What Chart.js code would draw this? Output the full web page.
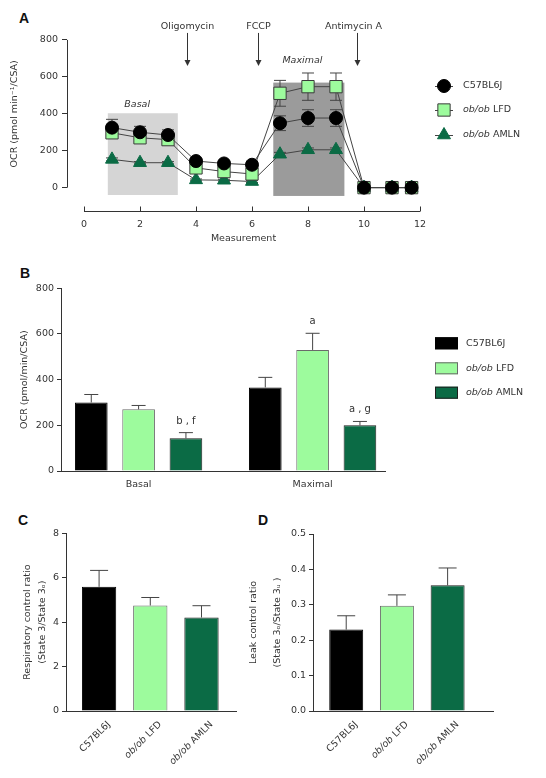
<!DOCTYPE html>
<html>
<head>
<meta charset="utf-8">
<script src="https://cdn.jsdelivr.net/npm/chart.js@4"></script>
<style>
  body { margin: 0; background: #fff; width: 546px; height: 778px; position: relative; overflow: hidden; }
  .box { position: absolute; }
  .letter { position: absolute; font: bold 14px "Liberation Sans", Arial, sans-serif; line-height: 1; color: #111; }
</style>
</head>
<body>
<div class="letter" style="left:19px;top:11px">A</div>
<div class="letter" style="left:20px;top:266px">B</div>
<div class="letter" style="left:18px;top:513px">C</div>
<div class="letter" style="left:258px;top:513px">D</div>

<div class="box" style="left:0;top:0;width:546px;height:250px"><canvas id="chartA"></canvas></div>
<div class="box" style="left:0;top:260px;width:546px;height:240px"><canvas id="chartB"></canvas></div>
<div class="box" style="left:0;top:505px;width:273px;height:273px"><canvas id="chartC"></canvas></div>
<div class="box" style="left:240px;top:505px;width:306px;height:273px"><canvas id="chartD"></canvas></div>

<script>
// ---- data ----
const groups = ['C57BL6J', 'ob/ob LFD', 'ob/ob AMLN'];

// A: OCR trace per measurement
const measurements = [1, 2, 3, 4, 5, 6, 7, 8, 9, 10, 11, 11.7];
const c57Ocr = [325, 300, 285, 144, 131, 124, 349, 377, 377, 0, 0, 0];
const c57Sem = [45, 32, 28, 14, 12, 12, 40, 45, 45, 0, 0, 0];
const lfdOcr = [297, 270, 260, 107, 87, 74, 511, 547, 547, 0, 0, 0];
const lfdSem = [22, 20, 20, 15, 15, 15, 70, 74, 74, 0, 0, 0];
const amlnOcr = [153, 135, 135, 42, 40, 33, 181, 205, 205, 0, 0, 0];
const amlnSem = [8, 6, 6, 5, 5, 5, 10, 10, 10, 0, 0, 0];
const xTicksA = [0, 2, 4, 6, 8, 10, 12];
const yTicksOcr = [0, 200, 400, 600, 800];
const injections = ['Oligomycin', 'FCCP', 'Antimycin A'];
const injectionAt = [3.68, 6.2, 9.75];

// B: basal / maximal OCR
const phases = ['Basal', 'Maximal'];
const c57Phase = [300, 366];
const c57PhaseSem = [35, 44];
const lfdPhase = [270, 530];
const lfdPhaseSem = [17, 73];
const amlnPhase = [143, 200];
const amlnPhaseSem = [25, 17];
const phaseNotes = [['', ''], ['', 'a'], ['b , f', 'a , g']];

// C: respiratory control ratio
const rcr = [5.59, 4.75, 4.21];
const rcrSem = [0.74, 0.36, 0.53];
const yTicksC = [0, 2, 4, 6, 8];

// D: leak control ratio
const lcr = [0.230, 0.297, 0.355];
const lcrSem = [0.039, 0.031, 0.049];
const yTicksD = [0, 0.1, 0.2, 0.3, 0.4, 0.5];

const black = '#000000';
const lightGreen = '#9dfb9d';
const darkGreen = '#0b6b45';
const ink = '#333333';

Chart.defaults.font.family = '"DejaVu Sans", sans-serif';
Chart.defaults.font.size = 9.5;
Chart.defaults.color = ink;
Chart.defaults.animation = false;

function fnt(size, italic) {
  return (italic ? 'italic ' : '') + size + 'px "DejaVu Sans", sans-serif';
}

// draw "ob/ob" in italics, the rest upright
function drawRich(ctx, label, x, y, size, align) {
  const parts = label.startsWith('ob/ob ') ? [['ob/ob', true], [label.slice(5), false]] : [[label, false]];
  let w = 0;
  parts.forEach(p => { ctx.font = fnt(size, p[1]); w += ctx.measureText(p[0]).width; });
  let cx = align === 'right' ? x - w : (align === 'center' ? x - w / 2 : x);
  ctx.textAlign = 'left';
  parts.forEach(p => {
    ctx.font = fnt(size, p[1]);
    ctx.fillText(p[0], cx, y);
    cx += ctx.measureText(p[0]).width;
  });
}

function drawErrors(chart, capHalf, both) {
  const ctx = chart.ctx;
  const y = chart.scales.y;
  ctx.save();
  ctx.strokeStyle = '#444';
  ctx.lineWidth = 1;
  chart.data.datasets.forEach((ds, d) => {
    const meta = chart.getDatasetMeta(d);
    meta.data.forEach((el, i) => {
      const v = ds.data[i].y;
      const e = ds.sem[i];
      if (!e) return;
      const top = y.getPixelForValue(v + e);
      const bot = y.getPixelForValue(both ? v - e : v);
      ctx.beginPath();
      ctx.moveTo(el.x, bot);
      ctx.lineTo(el.x, top);
      ctx.moveTo(el.x - capHalf, top);
      ctx.lineTo(el.x + capHalf, top);
      if (both) {
        ctx.moveTo(el.x - capHalf, bot);
        ctx.lineTo(el.x + capHalf, bot);
      }
      ctx.stroke();
    });
  });
  ctx.restore();
}

// ---------- A ----------
const panelA = {
  id: 'panelA',
  beforeDatasetsDraw(chart) {
    const ctx = chart.ctx;
    const x = chart.scales.x, y = chart.scales.y;
    ctx.save();
    // phase windows
    ctx.fillStyle = '#d5d5d5';
    ctx.fillRect(x.getPixelForValue(0.85), y.getPixelForValue(403), x.getPixelForValue(3.35) - x.getPixelForValue(0.85), y.getPixelForValue(-40) - y.getPixelForValue(403));
    ctx.fillStyle = '#9b9b9b';
    ctx.fillRect(x.getPixelForValue(6.76), y.getPixelForValue(569), x.getPixelForValue(9.3) - x.getPixelForValue(6.76), y.getPixelForValue(-45) - y.getPixelForValue(569));
    // axes
    ctx.strokeStyle = ink;
    ctx.lineWidth = 1;
    ctx.beginPath();
    const ax = Math.round(chart.chartArea.left) + 0.5;
    ctx.moveTo(ax, y.getPixelForValue(0));
    ctx.lineTo(ax, y.getPixelForValue(800));
    const ay = Math.round(chart.chartArea.bottom) - 0.5;
    ctx.moveTo(x.getPixelForValue(0), ay);
    ctx.lineTo(x.getPixelForValue(12), ay);
    xTicksA.forEach(t => {
      const px = Math.round(x.getPixelForValue(t)) + 0.5;
      ctx.moveTo(px, ay);
      ctx.lineTo(px, ay - 5);
    });
    ctx.stroke();
    ctx.restore();
    drawErrors(chart, 6, true);
  },
  afterDraw(chart) {
    const ctx = chart.ctx;
    const x = chart.scales.x, y = chart.scales.y;
    ctx.save();
    ctx.fillStyle = ink;
    ctx.strokeStyle = ink;
    ctx.lineWidth = 1;
    // injection arrows
    injections.forEach((name, i) => {
      const px = Math.round(x.getPixelForValue(injectionAt[i])) + 0.5;
      const top = y.getPixelForValue(838);
      const tip = y.getPixelForValue(659);
      ctx.font = fnt(9.5);
      ctx.textAlign = 'center';
      ctx.textBaseline = 'alphabetic';
      ctx.fillText(name, px - (i === 2 ? 4 : 0), top - 4);
      ctx.beginPath();
      ctx.moveTo(px, top);
      ctx.lineTo(px, tip - 4);
      ctx.stroke();
      ctx.beginPath();
      ctx.moveTo(px - 3, tip - 6);
      ctx.lineTo(px + 3, tip - 6);
      ctx.lineTo(px, tip);
      ctx.closePath();
      ctx.fill();
    });
    // phase names
    ctx.font = fnt(9.5, true);
    ctx.textAlign = 'center';
    ctx.textBaseline = 'middle';
    ctx.fillText('Basal', x.getPixelForValue(1.9), y.getPixelForValue(450));
    ctx.fillText('Maximal', x.getPixelForValue(7.8), y.getPixelForValue(690));
    // y title, centred on the 0-800 axis
    ctx.save();
    ctx.translate(15, (y.getPixelForValue(0) + y.getPixelForValue(800)) / 2);
    ctx.rotate(-Math.PI / 2);
    ctx.font = fnt(9.5);
    ctx.fillText('OCR (pmol min\u207B\u00B9/CSA)', 0, 0);
    ctx.restore();
    // legend
    const rows = [86, 110, 135];
    chart.data.datasets.forEach((ds, i) => {
      const cy = rows[i];
      ctx.strokeStyle = '#444';
      ctx.beginPath();
      ctx.moveTo(435, cy + 0.5);
      ctx.lineTo(453, cy + 0.5);
      ctx.stroke();
      ctx.fillStyle = ds.pointBackgroundColor;
      ctx.strokeStyle = ds.pointBorderColor;
      Chart.helpers.drawPoint(ctx, { pointStyle: ds.pointStyle, radius: ds.pointRadius, borderWidth: 1, rotation: 0 }, 444, cy);
      ctx.fillStyle = ink;
      ctx.textBaseline = 'middle';
      drawRich(ctx, ds.label, 463, cy, 9.5, 'left');
    });
    ctx.restore();
  }
};

new Chart(document.getElementById('chartA'), {
  type: 'line',
  data: {
    datasets: [
      {
        label: groups[0],
        data: measurements.map((m, i) => ({ x: m, y: c57Ocr[i] })),
        sem: c57Sem,
        borderColor: '#444', borderWidth: 1,
        pointStyle: 'circle', pointRadius: 6.5,
        pointBackgroundColor: black, pointBorderColor: black, pointBorderWidth: 1
      },
      {
        label: groups[1],
        data: measurements.map((m, i) => ({ x: m, y: lfdOcr[i] })),
        sem: lfdSem,
        borderColor: '#444', borderWidth: 1,
        pointStyle: 'rect', pointRadius: 8.7,
        pointBackgroundColor: lightGreen, pointBorderColor: '#3a3a3a', pointBorderWidth: 1
      },
      {
        label: groups[2],
        data: measurements.map((m, i) => ({ x: m, y: amlnOcr[i] })),
        sem: amlnSem,
        borderColor: '#444', borderWidth: 1,
        pointStyle: 'triangle', pointRadius: 7.5,
        pointBackgroundColor: darkGreen, pointBorderColor: darkGreen, pointBorderWidth: 1
      }
    ]
  },
  options: {
    responsive: true,
    maintainAspectRatio: false,
    layout: { padding: { top: 25, right: 126, left: 0, bottom: 0 } },
    plugins: { legend: { display: false }, tooltip: { enabled: false } },
    scales: {
      x: {
        type: 'linear', min: -0.607, max: 12,
        afterBuildTicks: s => { s.ticks = xTicksA.map(v => ({ value: v })); },
        afterFit: s => { s.height = 38; },
        grid: { display: false },
        border: { display: false },
        ticks: { autoSkip: false, maxRotation: 0, padding: -1 },
        title: { display: true, text: 'Measurement', padding: { top: 0, bottom: 6 } }
      },
      y: {
        min: -132, max: 881,
        afterBuildTicks: s => { s.ticks = yTicksOcr.map(v => ({ value: v })); },
        afterFit: s => { s.width = 67; },
        grid: { drawOnChartArea: false, tickLength: 5, color: ink },
        border: { display: false },
        ticks: { padding: 4 }
      }
    }
  },
  plugins: [panelA]
});

// ---------- B ----------
const panelB = {
  id: 'panelB',
  afterDatasetsDraw(chart) {
    drawErrors(chart, 7, false);
    const ctx = chart.ctx;
    const y = chart.scales.y;
    ctx.save();
    ctx.fillStyle = ink;
    ctx.font = fnt(10);
    ctx.textAlign = 'center';
    ctx.textBaseline = 'alphabetic';
    chart.data.datasets.forEach((ds, d) => {
      chart.getDatasetMeta(d).data.forEach((el, i) => {
        const note = phaseNotes[d][i];
        if (note) ctx.fillText(note, el.x, y.getPixelForValue(ds.data[i].y + ds.sem[i]) - 9);
      });
    });
    // legend
    const rows = [83.3, 108.3, 132.7];
    chart.data.datasets.forEach((ds, i) => {
      ctx.fillStyle = ds.backgroundColor;
      ctx.strokeStyle = ds.borderColor;
      ctx.fillRect(435, rows[i] - 6, 23, 12);
      ctx.strokeRect(435.5, rows[i] - 5.5, 22, 11);
      ctx.fillStyle = ink;
      ctx.textBaseline = 'middle';
      drawRich(ctx, ds.label, 466, rows[i], 9.5, 'left');
    });
    ctx.restore();
  }
};

function barSet(label, values, sem, fill, edge) {
  return {
    label: label,
    data: values.map((v, i) => ({ x: i, y: v })),
    sem: sem,
    backgroundColor: fill,
    borderColor: edge,
    borderWidth: 1
  };
}

new Chart(document.getElementById('chartB'), {
  type: 'bar',
  data: {
    datasets: [
      barSet(groups[0], c57Phase, c57PhaseSem, black, black),
      barSet(groups[1], lfdPhase, lfdPhaseSem, lightGreen, '#6a6a6a'),
      barSet(groups[2], amlnPhase, amlnPhaseSem, darkGreen, '#1e1e1e')
    ]
  },
  options: {
    responsive: true,
    maintainAspectRatio: false,
    categoryPercentage: 0.816,
    barPercentage: 0.69,
    layout: { padding: { top: 28.3, right: 161, left: 0, bottom: 0 } },
    plugins: { legend: { display: false }, tooltip: { enabled: false } },
    scales: {
      x: {
        type: 'linear', min: -0.446, max: 1.416, offset: false,
        afterBuildTicks: s => { s.ticks = phases.map((p, i) => ({ value: i })); },
        afterFit: s => { s.height = 29; },
        grid: { display: false },
        border: { display: true, color: ink },
        ticks: { autoSkip: false, maxRotation: 0, padding: 0, callback: v => phases[v] }
      },
      y: {
        min: 0, max: 800,
        afterBuildTicks: s => { s.ticks = yTicksOcr.map(v => ({ value: v })); },
        afterFit: s => { s.width = 61; },
        grid: { drawOnChartArea: false, tickLength: 4, color: ink },
        border: { display: true, color: ink },
        ticks: { padding: 3 },
        title: { display: true, text: 'OCR (pmol/min/CSA)', padding: { top: 19.3, bottom: 0 } }
      }
    }
  },
  plugins: [panelB]
});

// ---------- C & D ----------
const ratioPanel = {
  id: 'ratioPanel',
  afterDatasetsDraw(chart) {
    drawErrors(chart, 9, false);
  },
  afterDraw(chart) {
    const ctx = chart.ctx;
    const x = chart.scales.x;
    const base = chart.chartArea.bottom;
    ctx.save();
    ctx.fillStyle = ink;
    ctx.textBaseline = 'middle';
    groups.forEach((g, i) => {
      ctx.save();
      ctx.translate(x.getPixelForValue(i) + 10, base + 12);
      ctx.rotate(-Math.PI / 4);
      drawRich(ctx, g, 0, 0, 9.5, 'right');
      ctx.restore();
    });
    ctx.restore();
  }
};

function ratioChart(id, values, sem, ticks, opts) {
  return new Chart(document.getElementById(id), {
    type: 'bar',
    data: {
      datasets: [{
        label: 'ratio',
        data: values.map((v, i) => ({ x: i, y: v })),
        sem: sem,
        backgroundColor: [black, lightGreen, darkGreen],
        borderColor: [black, '#6a6a6a', '#1e1e1e'],
        borderWidth: 1
      }]
    },
    options: {
      responsive: true,
      maintainAspectRatio: false,
      categoryPercentage: 1,
      barPercentage: 0.67,
      layout: { padding: { top: opts.top, right: opts.right, left: 0, bottom: 0 } },
      plugins: { legend: { display: false }, tooltip: { enabled: false } },
      scales: {
        x: {
          type: 'linear', min: opts.xMin, max: opts.xMax, offset: false,
          afterBuildTicks: s => { s.ticks = groups.map((g, i) => ({ value: i })); },
          afterFit: s => { s.height = 67; },
          grid: { display: false },
          border: { display: true, color: ink },
          ticks: { display: false }
        },
        y: {
          min: 0, max: ticks[ticks.length - 1],
          afterBuildTicks: s => { s.ticks = ticks.map(v => ({ value: v })); },
          afterFit: s => { s.width = opts.yWidth; },
          grid: { drawOnChartArea: false, tickLength: 4, color: ink },
          border: { display: true, color: ink },
          ticks: { padding: 3, callback: opts.fmt },
          title: {
            display: true, text: opts.title,
            font: { size: 9.5, lineHeight: opts.lineHeight },
            padding: { top: opts.titlePad, bottom: 0 }
          }
        }
      }
    },
    plugins: [ratioPanel]
  });
}

ratioChart('chartC', rcr, rcrSem, yTicksC, {
  top: 28.3, right: 37, yWidth: 66, xMin: -0.646, xMax: 2.674,
  title: ['Respiratory control ratio', '(State 3/State 3\u2092)'],
  lineHeight: 1.58, titlePad: 20.5, fmt: v => v
});

ratioChart('chartD', lcr, lcrSem, yTicksD, {
  top: 29, right: 53, yWidth: 73, xMin: -0.655, xMax: 2.895,
  title: ['Leak control ratio', '(State 3\u2092/State 3\u1D64 )'],
  lineHeight: 2.6, titlePad: 0.7, fmt: v => Number(v).toFixed(1)
});
</script>
</body>
</html>
